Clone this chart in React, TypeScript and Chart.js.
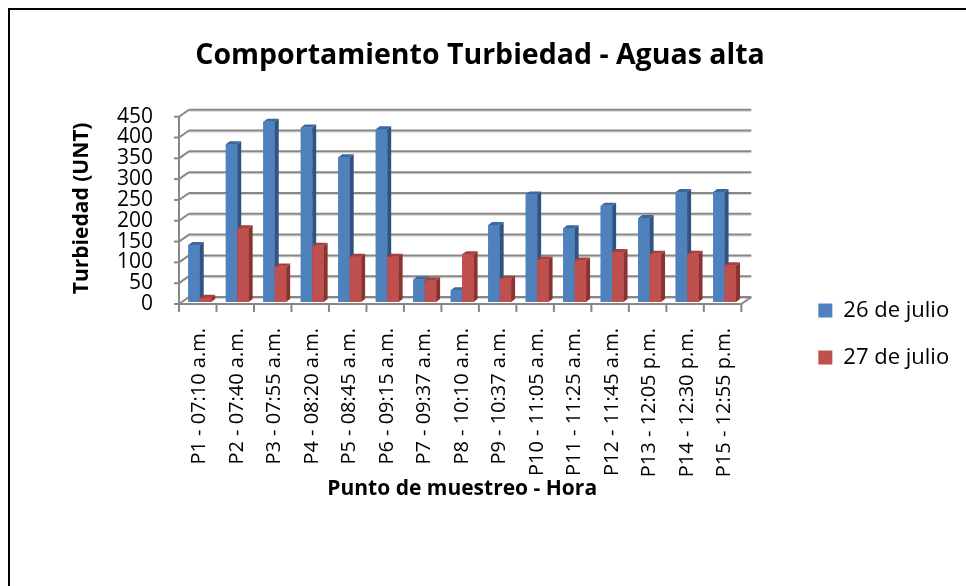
import React, { useEffect, useRef } from 'react';
import { Chart, registerables } from 'chart.js';

Chart.register(...registerables);

const categories = [
  'P1 - 07:10 a.m.',
  'P2 - 07:40 a.m.',
  'P3 - 07:55 a.m.',
  'P4 - 08:20 a.m.',
  'P5 - 08:45 a.m.',
  'P6 - 09:15 a.m.',
  'P7 - 09:37 a.m.',
  'P8 - 10:10 a.m.',
  'P9 - 10:37 a.m.',
  'P10 - 11:05 a.m.',
  'P11 - 11:25 a.m.',
  'P12 - 11:45 a.m.',
  'P13 - 12:05 p.m.',
  'P14 - 12:30 p.m.',
  'P15 - 12:55 p.m.',
];

const julio26 = [137, 379, 433, 419, 348, 415, 54, 28, 185, 258, 177, 231, 202, 264, 264];
const julio27 = [10, 177, 85, 135, 109, 109, 52, 115, 56, 102, 100, 120, 116, 116, 88];

const seriesLabels = ['26 de julio', '27 de julio'];
const yTicks = [0, 50, 100, 150, 200, 250, 300, 350, 400, 450];

const chartTitle = 'Comportamiento Turbiedad - Aguas alta';
const xTitle = 'Punto de muestreo - Hora';
const yTitle = 'Turbiedad (UNT)';

const FONT = "'Open Sans', sans-serif";
const FRONT = { dx: -2, dy: 2 };
const BACK = { dx: 8, dy: -5 };
const DEPTH = { dx: 4, dy: -3 };

const shades = [
  { front: '#4f81bd', side: '#2f5483', top: '#3b679c' },
  { front: '#c0504d', side: '#8a3431', top: '#a5403d' },
];

const threeD = {
  id: 'threeD',
  beforeDatasetsDraw(chart: any) {
    const { ctx, chartArea: ca, scales } = chart;
    const y = scales.y;
    const line = (x1: number, y1: number, x2: number, y2: number) => {
      ctx.beginPath();
      ctx.moveTo(x1, y1);
      ctx.lineTo(x2, y2);
      ctx.stroke();
    };
    ctx.save();
    const fx = ca.left + FRONT.dx;
    const bx = ca.left + BACK.dx;
    for (const v of yTicks) {
      const py = y.getPixelForValue(v);
      const by = py + BACK.dy;
      ctx.strokeStyle = '#d4d4d4';
      ctx.lineWidth = 1;
      line(bx, by + 1.5, ca.right + BACK.dx, by + 1.5);
      ctx.strokeStyle = '#878787';
      ctx.lineWidth = 2;
      line(bx, by, ca.right + BACK.dx, by);
      line(fx, py + FRONT.dy, bx, by);
      line(fx - 5, py + FRONT.dy, fx, py + FRONT.dy);
    }
    const yTop = y.getPixelForValue(yTicks[yTicks.length - 1]);
    const y0 = y.getPixelForValue(0);
    ctx.strokeStyle = '#878787';
    ctx.lineWidth = 2;
    line(fx, yTop + FRONT.dy, fx, y0 + FRONT.dy);
    line(fx, y0 + FRONT.dy, ca.right + FRONT.dx, y0 + FRONT.dy);
    line(ca.right + FRONT.dx, y0 + FRONT.dy, ca.right + BACK.dx, y0 + BACK.dy);
    const n = categories.length;
    const w = (ca.right - ca.left) / n;
    for (let i = 0; i <= n; i++) {
      line(fx + i * w, y0 + FRONT.dy, fx + i * w, y0 + FRONT.dy + 8);
    }
    ctx.restore();
  },
  afterDatasetsDraw(chart: any) {
    const { ctx } = chart;
    ctx.save();
    const count = chart.data.datasets.length;
    for (let di = 0; di < count; di++) {
      const meta = chart.getDatasetMeta(di);
      const shade = shades[di];
      if (!shade || meta.hidden) continue;
      for (const el of meta.data) {
        const { x, y, base, width } = el.getProps(['x', 'y', 'base', 'width'], true);
        const l = x - width / 2;
        const r = x + width / 2;
        ctx.fillStyle = shade.front;
        ctx.fillRect(l, y, width, base - y);
        ctx.fillStyle = shade.side;
        ctx.beginPath();
        ctx.moveTo(r, y);
        ctx.lineTo(r + DEPTH.dx, y + DEPTH.dy);
        ctx.lineTo(r + DEPTH.dx, base + DEPTH.dy);
        ctx.lineTo(r, base);
        ctx.closePath();
        ctx.fill();
        ctx.fillStyle = shade.top;
        ctx.beginPath();
        ctx.moveTo(l, y);
        ctx.lineTo(l + DEPTH.dx, y + DEPTH.dy);
        ctx.lineTo(r + DEPTH.dx, y + DEPTH.dy);
        ctx.lineTo(r, y);
        ctx.closePath();
        ctx.fill();
      }
    }
    ctx.restore();
  },
};

export default function App() {
  const canvasRef = useRef<HTMLCanvasElement | null>(null);

  useEffect(() => {
    if (!canvasRef.current) return;
    const chart = new Chart(canvasRef.current, {
      type: 'bar',
      data: {
        labels: categories,
        datasets: [
          {
            label: seriesLabels[0],
            data: julio26,
            backgroundColor: shades[0].front,
            borderWidth: 0,
            categoryPercentage: 0.61,
            barPercentage: 1.0,
            yAxisID: 'y',
          },
          {
            label: seriesLabels[1],
            data: julio27,
            backgroundColor: shades[1].front,
            borderWidth: 0,
            categoryPercentage: 0.61,
            barPercentage: 1.0,
            yAxisID: 'y',
          },
        ],
      },
      options: {
        responsive: false,
        animation: false,
        devicePixelRatio: 1,
        color: '#000',
        layout: { padding: { left: 0, right: 16, top: 0, bottom: 0 } },
        plugins: {
          title: {
            display: true,
            text: chartTitle,
            color: '#000',
            font: { family: FONT, size: 28.5, weight: 'bold' },
            padding: { top: 29, bottom: 41.5 },
          },
          legend: {
            display: true,
            position: 'right',
            align: 'center',
            title: {
              display: true,
              text: ' ',
              font: { family: FONT, size: 10 },
              padding: { top: 30, bottom: 30 },
            },
            labels: {
              color: '#000',
              font: { family: FONT, size: 22 },
              boxWidth: 14,
              boxHeight: 14,
              padding: 25,
            },
          },
          tooltip: { enabled: false },
        },
        scales: {
          x: {
            type: 'category',
            offset: true,
            grid: { display: false, drawTicks: false },
            border: { display: false },
            ticks: {
              autoSkip: false,
              maxRotation: 90,
              minRotation: 90,
              padding: 26,
              color: '#000',
              font: { family: FONT, size: 20 },
            },
            title: {
              display: true,
              text: xTitle,
              color: '#000',
              font: { family: FONT, size: 21, weight: 'bold' },
              padding: { top: 0, bottom: 84 },
            },
            afterFit: (s: any) => {
              s.height = 284;
            },
          },
          y: {
            type: 'linear',
            position: 'left',
            min: 0,
            max: 450,
            grid: { display: false, drawTicks: false },
            border: { display: false },
            ticks: {
              stepSize: 50,
              autoSkip: false,
              padding: 28,
              labelOffset: 2,
              color: '#000',
              font: { family: FONT, size: 21 },
            },
            title: {
              display: true,
              text: yTitle,
              color: '#000',
              font: { family: FONT, size: 21, weight: 'bold' },
              padding: { top: 59, bottom: 0 },
            },
            afterFit: (s: any) => {
              s.width = 171;
            },
          },
          y2: {
            type: 'linear',
            position: 'right',
            display: true,
            grid: { display: false, drawTicks: false },
            border: { display: false },
            ticks: { display: false },
            afterFit: (s: any) => {
              s.width = 50;
            },
          },
        },
      } as any,
      plugins: [threeD],
    });
    return () => chart.destroy();
  }, []);

  return (
    <div
      style={{
        position: 'absolute',
        left: 8,
        top: 8,
        width: 958,
        height: 578,
        borderTop: '2px solid #000',
        borderLeft: '2px solid #000',
        boxSizing: 'border-box',
        background: '#fff',
        overflow: 'hidden',
      }}
    >
      <canvas ref={canvasRef} width={956} height={576} style={{ display: 'block', width: 956, height: 576 }} />
    </div>
  );
}
